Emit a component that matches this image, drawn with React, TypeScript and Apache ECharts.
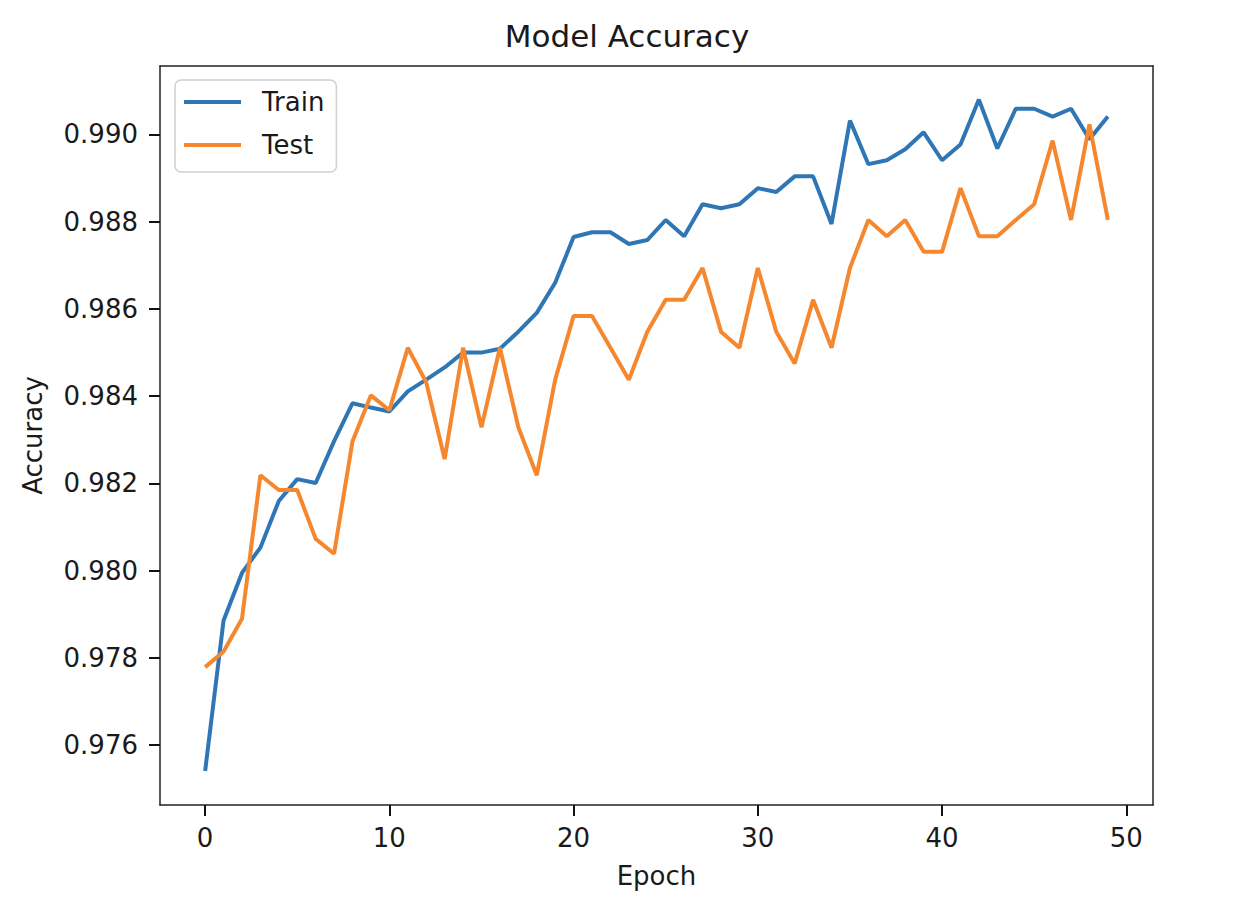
import React, { useEffect, useRef } from "react";
import * as echarts from "echarts";

const epochs: number[] = Array.from({ length: 50 }, (_, i) => i);

const trainAcc: number[] = [
  0.97541, 0.97886, 0.97995, 0.98053, 0.9816, 0.9821, 0.98201, 0.98297, 0.98384, 0.98374,
  0.98365, 0.98411, 0.98438, 0.98466, 0.985, 0.985, 0.98509, 0.98548, 0.98591, 0.9866,
  0.98765, 0.98776, 0.98776, 0.98749, 0.98758, 0.98804, 0.98767, 0.9884, 0.98831, 0.9884,
  0.98877, 0.98868, 0.98904, 0.98904, 0.98795, 0.99032, 0.98932, 0.98941, 0.98966, 0.99005,
  0.98941, 0.98977, 0.9908, 0.98968, 0.99059, 0.99059, 0.99041, 0.99059, 0.98989, 0.99041,
];

const testAcc: number[] = [
  0.97779, 0.97815, 0.9789, 0.98219, 0.98185, 0.98185, 0.98073, 0.98039, 0.98297, 0.98402,
  0.98368, 0.98511, 0.98432, 0.98256, 0.98511, 0.98329, 0.98511, 0.98329, 0.98219, 0.98438,
  0.98584, 0.98584, 0.98511, 0.98438, 0.98548, 0.98621, 0.98621, 0.98694, 0.98548, 0.98511,
  0.98694, 0.98548, 0.98475, 0.98621, 0.98511, 0.98694, 0.98804, 0.98767, 0.98804, 0.98731,
  0.98731, 0.98877, 0.98767, 0.98767, 0.98804, 0.9884, 0.98986, 0.98804, 0.99023, 0.98804,
];

const xTicks: number[] = [0, 10, 20, 30, 40, 50];
const yTicks: number[] = [0.976, 0.978, 0.98, 0.982, 0.984, 0.986, 0.988, 0.99];

const FONT = "DejaVu Sans";
const TXT = "#1a1a1a";
const AXIS = "#222222";
const BLUE = "#2f76b4";
const ORANGE = "#f5882f";
const LINE_ICON = "path://M0,0H57V4H0Z";

export default function App() {
  const ref = useRef<HTMLDivElement>(null);
  useEffect(() => {
    if (!ref.current) return;
    const chart = echarts.init(ref.current, undefined, { renderer: "svg" });
    const tickStyle = { show: true, length: 11, lineStyle: { color: "#111111", width: 2 } };
    chart.setOption({
      animation: false,
      backgroundColor: "#ffffff",
      textStyle: { fontFamily: FONT, color: TXT },
      title: {
        text: "Model Accuracy",
        left: "center",
        top: 15,
        textStyle: { fontFamily: FONT, fontSize: 31, fontWeight: "normal", color: TXT },
      },
      legend: {
        orient: "vertical",
        left: 175,
        top: 80,
        padding: [9, 12, 14, 9],
        itemWidth: 57,
        itemHeight: 26,
        itemGap: 17,
        borderColor: "#d0d0d0",
        borderWidth: 1.5,
        borderRadius: 6,
        backgroundColor: "rgba(255,255,255,0.8)",
        textStyle: { fontFamily: FONT, fontSize: 26, color: TXT, padding: [0, 0, 0, 16], lineHeight: 26 },
        data: [
          { name: "Train", icon: LINE_ICON },
          { name: "Test", icon: LINE_ICON },
        ],
      },
      grid: {
        left: 160,
        right: 101,
        top: 66,
        bottom: 103,
        show: false,
      },
      xAxis: [
        {
          type: "value",
          position: "bottom",
          min: -2.45,
          max: 51.45,
          name: "Epoch",
          nameLocation: "middle",
          nameGap: 58,
          nameTextStyle: { fontFamily: FONT, fontSize: 26, color: TXT },
          axisLine: { show: true, onZero: false, lineStyle: { color: AXIS, width: 1.5 } },
          splitLine: { show: false },
          axisTick: { ...tickStyle, customValues: xTicks },
          axisLabel: {
            show: true,
            fontFamily: FONT,
            fontSize: 26,
            color: TXT,
            margin: 20,
            customValues: xTicks,
          },
        },
        {
          type: "value",
          position: "top",
          min: -2.45,
          max: 51.45,
          axisLine: { show: true, onZero: false, lineStyle: { color: AXIS, width: 1.5 } },
          splitLine: { show: false },
          axisTick: { show: false },
          axisLabel: { show: false },
        },
      ],
      yAxis: [
        {
          type: "value",
          position: "left",
          min: 0.97463,
          max: 0.99157,
          name: "Accuracy",
          nameLocation: "middle",
          nameGap: 114,
          nameRotate: 90,
          nameTextStyle: { fontFamily: FONT, fontSize: 26, color: TXT },
          axisLine: { show: true, onZero: false, lineStyle: { color: AXIS, width: 1.5 } },
          splitLine: { show: false },
          axisTick: { ...tickStyle, customValues: yTicks },
          axisLabel: {
            show: true,
            fontFamily: FONT,
            fontSize: 26,
            color: TXT,
            margin: 22,
            customValues: yTicks,
            formatter: (v: number) => v.toFixed(3),
          },
        },
        {
          type: "value",
          position: "right",
          min: 0.97463,
          max: 0.99157,
          axisLine: { show: true, onZero: false, lineStyle: { color: AXIS, width: 1.5 } },
          splitLine: { show: false },
          axisTick: { show: false },
          axisLabel: { show: false },
        },
      ],
      series: [
        {
          name: "Train",
          type: "line",
          data: epochs.map((e, i) => [e, trainAcc[i]]),
          symbol: "none",
          lineStyle: { color: BLUE, width: 4 },
          itemStyle: { color: BLUE },
        },
        {
          name: "Test",
          type: "line",
          data: epochs.map((e, i) => [e, testAcc[i]]),
          symbol: "none",
          lineStyle: { color: ORANGE, width: 4 },
          itemStyle: { color: ORANGE },
        },
      ],
    });
    return () => chart.dispose();
  }, []);
  return <div ref={ref} style={{ width: 1254, height: 908, position: "absolute", left: 0, top: 0 }} />;
}
